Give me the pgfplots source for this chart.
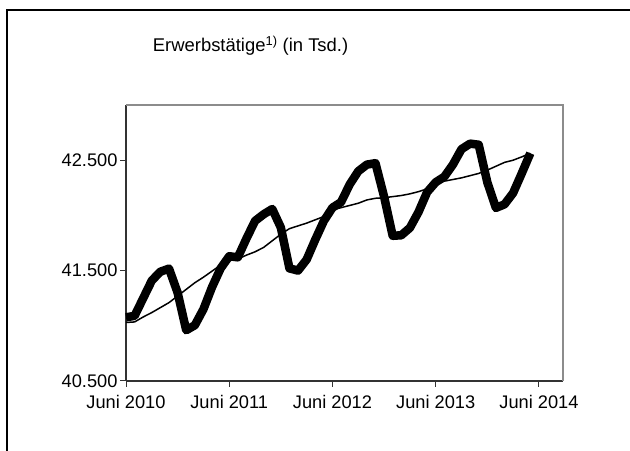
\documentclass[border=0pt]{standalone}
\usepackage{fontspec}
\setmainfont{Liberation Sans}
\usepackage{pgfplots}
\pgfplotsset{compat=1.18}
\begin{document}
\begin{tikzpicture}[x=1bp,y=1bp]
\useasboundingbox (0,0) rectangle (630,451);
\draw[line width=1.3bp, black] (7,0) -- (7,441) -- (631,441);
\node[anchor=base west, font=\fontsize{18.5}{20}\selectfont, inner sep=0pt] at (152.7,399) {Erwerbstätige\textsuperscript{1)} (in Tsd.)};
\begin{axis}[
  at={(126bp,70bp)}, anchor=south west,
  scale only axis, width=437bp, height=276bp,
  xmin=0, xmax=50.8, ymin=40500, ymax=43000,
  scaled y ticks=false,
  axis lines*=left,
  axis line style={-, draw=black!80, line width=1.2bp},
  xtick={0,12,24,36,48},
  xticklabels={Juni 2010,Juni 2011,Juni 2012,Juni 2013,Juni 2014},
  ytick={40500,41500,42500},
  yticklabels={40.500,41.500,42.500},
  tick align=outside, major tick length=6bp,
  tick style={black!80, line width=1bp},
  ticklabel style={font=\fontsize{18.3}{20}\selectfont},
  xticklabel style={yshift=-5bp},
  yticklabel style={xshift=1bp},
  clip=false,
]
\addplot[black, line width=8.5bp, line join=round] table {
0 41077
1 41090
2 41250
3 41410
4 41490
5 41518
6 41300
7 40960
8 41005
9 41150
10 41350
11 41520
12 41630
13 41620
14 41790
15 41950
16 42010
17 42058
18 41890
19 41520
20 41500
21 41600
22 41780
23 41950
24 42070
25 42120
26 42280
27 42400
28 42460
29 42473
30 42170
31 41815
32 41820
33 41887
34 42030
35 42210
36 42300
37 42350
38 42460
39 42600
40 42650
41 42640
42 42300
43 42068
44 42100
45 42203
46 42380
47 42563
};
\addplot[black, line width=1.5bp, line join=round] table {
0 41030
1 41035
2 41080
3 41120
4 41165
5 41210
6 41270
7 41330
8 41390
9 41440
10 41495
11 41550
12 41590
13 41605
14 41640
15 41670
16 41710
17 41770
18 41830
19 41880
20 41905
21 41930
22 41960
23 41990
24 42050
25 42070
26 42090
27 42110
28 42140
29 42155
30 42160
31 42170
32 42180
33 42195
34 42215
35 42240
36 42290
37 42310
38 42325
39 42340
40 42360
41 42380
42 42410
43 42445
44 42480
45 42500
46 42530
47 42563
};
\draw[draw=black!45, line width=2bp] (rel axis cs:0,1) -- (rel axis cs:1,1) -- (rel axis cs:1,0);
\end{axis}
\end{tikzpicture}
\end{document}
